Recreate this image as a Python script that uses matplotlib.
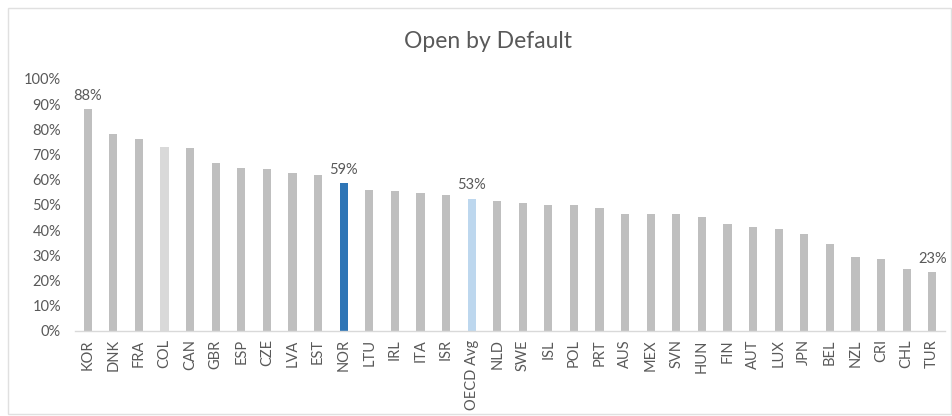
import matplotlib
matplotlib.use("Agg")
import matplotlib.pyplot as plt
from matplotlib.patches import Rectangle
from matplotlib.ticker import PercentFormatter

categories = ["KOR", "DNK", "FRA", "COL", "CAN", "GBR", "ESP", "CZE", "LVA", "EST",
              "NOR", "LTU", "IRL", "ITA", "ISR", "OECD Avg", "NLD", "SWE", "ISL", "POL",
              "PRT", "AUS", "MEX", "SVN", "HUN", "FIN", "AUT", "LUX", "JPN", "BEL",
              "NZL", "CRI", "CHL", "TUR"]
values = [0.88, 0.78, 0.76, 0.73, 0.725, 0.665, 0.646, 0.642, 0.628, 0.62,
          0.586, 0.561, 0.557, 0.546, 0.54, 0.525, 0.517, 0.509, 0.50, 0.50,
          0.488, 0.465, 0.465, 0.465, 0.454, 0.425, 0.414, 0.406, 0.386, 0.344,
          0.295, 0.286, 0.246, 0.233]
labelled = {"KOR": "88%", "NOR": "59%", "OECD Avg": "53%", "TUR": "23%"}
special_colors = {"COL": "#D9D9D9", "NOR": "#2E75B6", "OECD Avg": "#BDD7EE"}
base_color = "#BFBFBF"

plt.rcParams['font.family'] = ['Lato', 'DejaVu Sans']
txt = "#595959"

fig = plt.figure(figsize=(9.52, 4.16), dpi=100)
W, H = 952, 416
fig.patches.append(Rectangle((8 / W, 2 / H), (951 - 8) / W, (408 - 2) / H,
                             transform=fig.transFigure, fill=False,
                             edgecolor="#E0E0E0", linewidth=1.0))
ax = fig.add_axes([75 / W, 1 - 331 / H, (945 - 75) / W, (331 - 79) / H])

colors = [special_colors.get(c, base_color) for c in categories]
x = list(range(len(categories)))
ax.bar(x, values, width=0.32, color=colors)

for i, (c, v) in enumerate(zip(categories, values)):
    if c in labelled:
        ax.text(i, v + 0.025, labelled[c], ha="center", va="bottom",
                fontsize=10.5, color=txt)

ax.set_xlim(-0.5, len(categories) - 0.5)
ax.set_ylim(0, 1.0)
ax.set_yticks([i / 10 for i in range(11)])
ax.yaxis.set_major_formatter(PercentFormatter(1.0, decimals=0))
ax.set_xticks(x)
ax.set_xticklabels(categories, rotation=90, fontsize=10.5, color=txt)
ax.tick_params(axis="y", length=0, labelsize=10.5, labelcolor=txt, pad=10)
ax.tick_params(axis="x", length=0, pad=6)
for s in ["top", "right", "left"]:
    ax.spines[s].set_visible(False)
ax.spines["bottom"].set_color("#D9D9D9")
ax.spines["bottom"].set_linewidth(1.0)

fig.text(488 / W, 1 - 41 / H, "Open by Default", ha="center", va="center",
         fontsize=16.5, color=txt)

fig.savefig("out.png", dpi=100)
